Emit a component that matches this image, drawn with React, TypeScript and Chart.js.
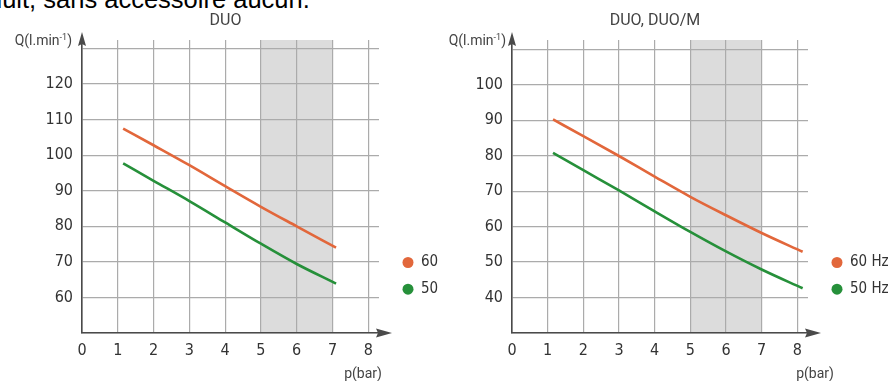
import React, { useEffect, useRef } from 'react';
import { Chart, registerables } from 'chart.js';

Chart.register(...registerables);

// ---------- data ----------
const pageHeading = 'duit, sans accessoire aucun.';

const leftTitle = 'DUO';
const leftPressure = [1.15, 2, 3, 4, 5, 6, 7.1];
const leftFlow60 = [107.5, 102.8, 97.2, 91.3, 85.5, 80.0, 74.0];
const leftFlow50 = [97.7, 92.8, 87.1, 81.1, 75.1, 69.4, 63.9];
const leftLegend = ['60', '50'];
const leftYTicks = [50, 60, 70, 80, 90, 100, 110, 120, 130];

const rightTitle = 'DUO, DUO/M';
const rightPressure = [1.15, 2, 3, 4, 5, 6, 7, 8.15];
const rightFlow60 = [90.2, 85.5, 79.9, 74.1, 68.4, 63.2, 58.2, 52.9];
const rightFlow50 = [80.8, 75.9, 70.2, 64.3, 58.5, 53.0, 47.9, 42.6];
const rightLegend = ['60 Hz', '50 Hz'];
const rightYTicks = [30, 40, 50, 60, 70, 80, 90, 100, 110];

const xTicks = [0, 1, 2, 3, 4, 5, 6, 7, 8];
const shadedBand = [5, 7];
const yAxisLabelMain = 'Q(l.min';
const yAxisLabelSup = '-1';
const xAxisLabel = 'p(bar)';

// ---------- style ----------
const ORANGE = '#E2673B';
const GREEN = '#26903A';
const GRID = '#ABABAB';
const AXIS = '#4A4A4A';
const TEXT = '#333333';
const FONT = 'Roboto, "Open Sans", sans-serif';
const NARROW = '"Liberation Sans Narrow", "DejaVu Sans Condensed", Roboto, sans-serif';

type Panel = {
  title: string;
  xs: number[];
  y60: number[];
  y50: number[];
  legend: string[];
  yTicks: number[];
  yMaxPad: number;
  canvasW: number;
  yWidth: number;
  padRight: number;
  xLabelX: number;
  yLabelRight: number;
};

function makeDecor(p: Panel) {
  return {
    id: 'decor',
    beforeDraw(chart: any) {
      const { ctx, chartArea: ca, scales } = chart;
      const x0 = scales.x.getPixelForValue(shadedBand[0]);
      const x1 = scales.x.getPixelForValue(shadedBand[1]);
      ctx.save();
      ctx.fillStyle = '#DCDCDC';
      ctx.fillRect(x0, ca.top, x1 - x0, ca.bottom - ca.top);
      ctx.restore();
    },
    afterDraw(chart: any) {
      const { ctx, chartArea: ca } = chart;
      ctx.save();
      // arrows
      ctx.fillStyle = AXIS;
      ctx.beginPath();
      ctx.moveTo(ca.left, 32);
      ctx.lineTo(ca.left - 4, 46);
      ctx.lineTo(ca.left, 44);
      ctx.lineTo(ca.left + 4, 46);
      ctx.closePath();
      ctx.fill();
      ctx.beginPath();
      ctx.moveTo(ca.right + 13, ca.bottom);
      ctx.lineTo(ca.right - 3, ca.bottom - 4.5);
      ctx.lineTo(ca.right - 1, ca.bottom);
      ctx.lineTo(ca.right - 3, ca.bottom + 4.5);
      ctx.closePath();
      ctx.fill();

      // title
      ctx.fillStyle = '#444';
      ctx.font = `16px ${FONT}`;
      ctx.textAlign = 'center';
      ctx.textBaseline = 'middle';
      ctx.fillText(p.title, (ca.left + ca.right) / 2 - 5, 21);

      // y axis label
      ctx.font = `9px ${FONT}`;
      const supW = ctx.measureText(yAxisLabelSup).width;
      ctx.font = `14px ${FONT}`;
      const closeW = ctx.measureText(')').width;
      const mainW = ctx.measureText(yAxisLabelMain).width;
      ctx.textAlign = 'left';
      ctx.textBaseline = 'alphabetic';
      const base = 45;
      const start = p.yLabelRight - closeW - supW - mainW;
      ctx.fillText(yAxisLabelMain, start, base);
      ctx.fillText(')', start + mainW + supW, base);
      ctx.font = `9px ${FONT}`;
      ctx.fillText(yAxisLabelSup, start + mainW, base - 5);

      // x axis label
      ctx.font = `14px ${FONT}`;
      ctx.textAlign = 'center';
      ctx.textBaseline = 'middle';
      ctx.fillText(xAxisLabel, p.xLabelX, 374);

      // legend
      const ds = chart.data.datasets;
      ds.forEach((d: any, i: number) => {
        const cy = 262.5 + i * 26.7;
        const cx = ca.right + 29;
        ctx.fillStyle = d.borderColor;
        ctx.beginPath();
        ctx.arc(cx, cy, 5.5, 0, Math.PI * 2);
        ctx.fill();
        ctx.fillStyle = TEXT;
        ctx.font = `15px ${NARROW}`;
        ctx.textAlign = 'left';
        ctx.textBaseline = 'middle';
        ctx.fillText(d.label, cx + 13, cy);
      });
      ctx.restore();
    },
  };
}

function buildConfig(p: Panel): any {
  const yMin = p.yTicks[0];
  const yTop = p.yTicks[p.yTicks.length - 1];
  return {
    type: 'line',
    data: {
      datasets: [
        {
          label: p.legend[0],
          data: p.xs.map((x, i) => ({ x, y: p.y60[i] })),
          borderColor: ORANGE,
          backgroundColor: ORANGE,
          borderWidth: 2.6,
          pointRadius: 0,
          cubicInterpolationMode: 'monotone',
        },
        {
          label: p.legend[1],
          data: p.xs.map((x, i) => ({ x, y: p.y50[i] })),
          borderColor: GREEN,
          backgroundColor: GREEN,
          borderWidth: 2.6,
          pointRadius: 0,
          cubicInterpolationMode: 'monotone',
        },
      ],
    },
    options: {
      responsive: false,
      animation: false,
      layout: { padding: { left: 0, right: p.padRight, top: 40, bottom: 0 } },
      plugins: { legend: { display: false }, tooltip: { enabled: false }, title: { display: false } },
      scales: {
        x: {
          type: 'linear',
          min: xTicks[0],
          max: 8.3,
          afterFit: (s: any) => { s.height = 48; },
          afterBuildTicks: (s: any) => { s.ticks = xTicks.map((v) => ({ value: v })); },
          ticks: {
            includeBounds: false,
            padding: 8,
            color: TEXT,
            font: { family: NARROW, size: 16 },
            callback: (v: any) => String(v),
          },
          grid: { color: GRID, lineWidth: 1.2, drawTicks: false },
          border: { display: true, color: AXIS, width: 1.6 },
        },
        y: {
          type: 'linear',
          min: yMin,
          max: yTop + p.yMaxPad,
          afterFit: (s: any) => { s.width = p.yWidth; },
          afterBuildTicks: (s: any) => { s.ticks = p.yTicks.map((v) => ({ value: v })); },
          ticks: {
            includeBounds: false,
            padding: 9,
            color: TEXT,
            font: { family: NARROW, size: 16 },
            callback: (v: any) => (v === yMin || v === yTop ? '' : String(v)),
          },
          grid: { color: GRID, lineWidth: 1.2, drawTicks: false },
          border: { display: true, color: AXIS, width: 1.6 },
        },
      },
    },
    plugins: [makeDecor(p)],
  };
}

const leftPanel: Panel = {
  title: leftTitle,
  xs: leftPressure,
  y60: leftFlow60,
  y50: leftFlow50,
  legend: leftLegend,
  yTicks: leftYTicks,
  yMaxPad: 2.4,
  canvasW: 445,
  yWidth: 82,
  padRight: 66,
  xLabelX: 363,
  yLabelRight: 72,
};

const rightPanel: Panel = {
  title: rightTitle,
  xs: rightPressure,
  y60: rightFlow60,
  y50: rightFlow50,
  legend: rightLegend,
  yTicks: rightYTicks,
  yMaxPad: 2.6,
  canvasW: 446,
  yWidth: 67,
  padRight: 83,
  xLabelX: 370,
  yLabelRight: 61,
};

function ChartCanvas({ panel, left }: { panel: Panel; left: number }) {
  const ref = useRef<HTMLCanvasElement>(null);
  useEffect(() => {
    const chart = new Chart(ref.current as HTMLCanvasElement, buildConfig(panel));
    return () => chart.destroy();
  }, [panel]);
  return (
    <canvas
      ref={ref}
      width={panel.canvasW}
      height={381}
      style={{ position: 'absolute', left, top: 0, display: 'block' }}
    />
  );
}

export default function App() {
  return (
    <div
      style={{
        position: 'fixed',
        left: 0,
        top: 0,
        width: 891,
        height: 381,
        overflow: 'hidden',
        background: '#fff',
      }}
    >
      <div
        style={{
          position: 'absolute',
          left: -12,
          top: -15,
          fontFamily: '"Liberation Sans", Arial, sans-serif',
          fontSize: 25.5,
          color: '#000',
          whiteSpace: 'nowrap',
        }}
      >
        {pageHeading}
      </div>
      <ChartCanvas panel={leftPanel} left={0} />
      <ChartCanvas panel={rightPanel} left={445} />
    </div>
  );
}
